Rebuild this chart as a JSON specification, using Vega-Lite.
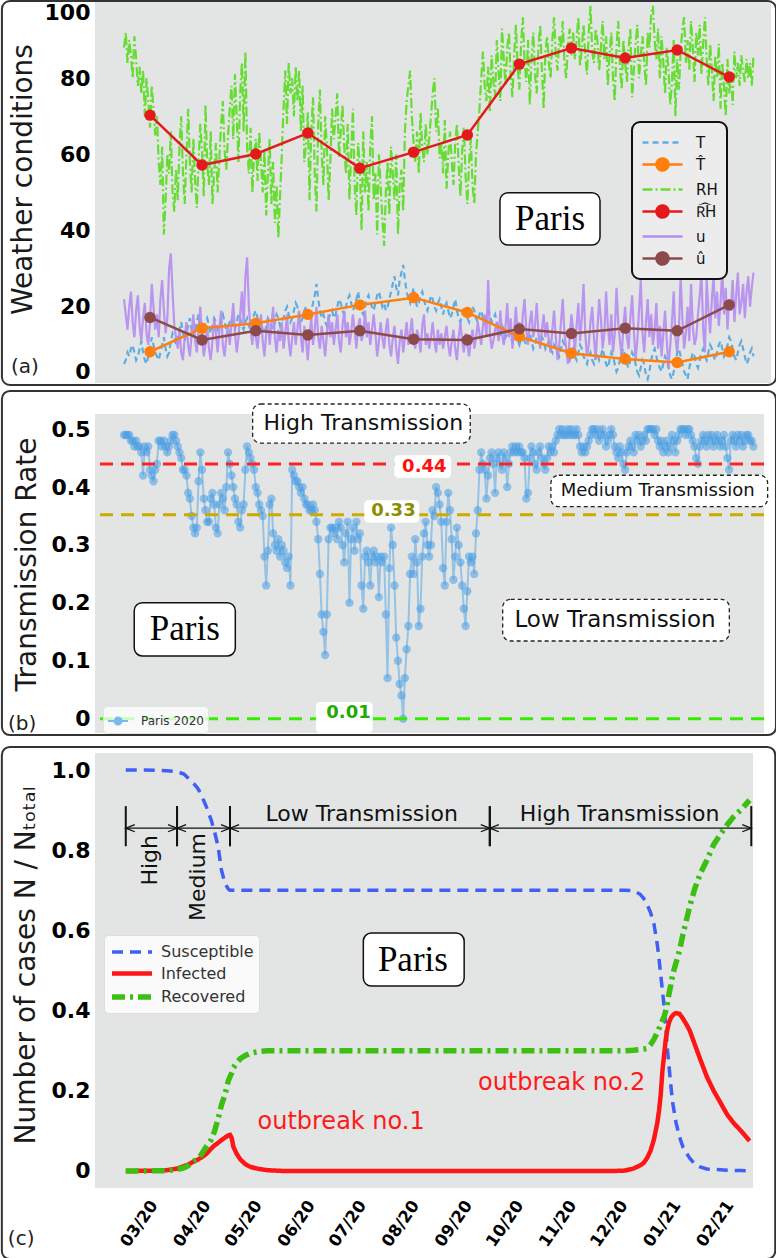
{
"$schema": "https://vega.github.io/schema/vega-lite/v6.json",
"padding": 0,
"background": "white",
"config": {
  "font": "DejaVu Sans",
  "view": {"fill": "#E3E5E5", "stroke": null},
  "axis": {"domain": false, "ticks": false, "gridColor": "#FFFFFF", "gridWidth": 2, "gridOpacity": 1, "labelFontSize": 22, "labelFontWeight": "bold", "labelColor": "#000000", "labelPadding": 5, "titleFontWeight": "normal", "titleFontSize": 28, "titleColor": "#1a1a1a"}
},
"datasets": {
"daily": [
{"d":0,"T":5,"RH":88,"u":22,"r":0.49},{"d":1,"T":6,"RH":92,"u":18,"r":0.49},{"d":2,"T":8,"RH":84,"u":14,"r":0.49},{"d":3,"T":7,"RH":90,"u":20,"r":0.49},{"d":4,"T":9,"RH":86,"u":24,"r":0.48},{"d":5,"T":10,"RH":80,"u":16,"r":0.48},{"d":6,"T":8,"RH":91,"u":12,"r":0.47},{"d":7,"T":6,"RH":85,"u":19,"r":0.48},{"d":8,"T":7,"RH":78,"u":23,"r":0.47},{"d":9,"T":9,"RH":83,"u":15,"r":0.47},
{"d":10,"T":11,"RH":76,"u":11,"r":0.46},{"d":11,"T":8,"RH":82,"u":17,"r":0.42},{"d":12,"T":6,"RH":70,"u":21,"r":0.47},{"d":13,"T":5,"RH":80,"u":13,"r":0.46},{"d":14,"T":7,"RH":74,"u":10,"r":0.47},{"d":15,"T":9,"RH":67,"u":16,"r":0.43},{"d":16,"T":12,"RH":78,"u":26,"r":0.42},{"d":17,"T":10,"RH":72,"u":20,"r":0.41},{"d":18,"T":8,"RH":65,"u":14,"r":0.43},{"d":19,"T":7,"RH":70,"u":18,"r":0.44},
{"d":20,"T":6,"RH":58,"u":12,"r":0.48},{"d":21,"T":8,"RH":52,"u":22,"r":0.48},{"d":22,"T":10,"RH":62,"u":27,"r":0.47},{"d":23,"T":12,"RH":39,"u":19,"r":0.48},{"d":24,"T":9,"RH":48,"u":13,"r":0.47},{"d":25,"T":7,"RH":60,"u":17,"r":0.46},{"d":26,"T":8,"RH":55,"u":30,"r":0.47},{"d":27,"T":11,"RH":66,"u":34,"r":0.48},{"d":28,"T":13,"RH":50,"u":24,"r":0.49},{"d":29,"T":12,"RH":45,"u":15,"r":0.49},
{"d":30,"T":10,"RH":56,"u":12,"r":0.48},{"d":31,"T":12,"RH":48,"u":9,"r":0.47},{"d":32,"T":14,"RH":62,"u":14,"r":0.46},{"d":33,"T":16,"RH":70,"u":8,"r":0.45},{"d":34,"T":13,"RH":55,"u":6,"r":0.43},{"d":35,"T":11,"RH":47,"u":12,"r":0.43},{"d":36,"T":13,"RH":60,"u":16,"r":0.42},{"d":37,"T":15,"RH":72,"u":10,"r":0.39},{"d":38,"T":17,"RH":58,"u":7,"r":0.38},{"d":39,"T":14,"RH":50,"u":13,"r":0.35},
{"d":40,"T":12,"RH":64,"u":18,"r":0.33},{"d":41,"T":14,"RH":53,"u":11,"r":0.32},{"d":42,"T":16,"RH":46,"u":8,"r":0.33},{"d":43,"T":18,"RH":58,"u":14,"r":0.41},{"d":44,"T":15,"RH":68,"u":20,"r":0.46},{"d":45,"T":13,"RH":61,"u":12,"r":0.43},{"d":46,"T":14,"RH":49,"u":7,"r":0.38},{"d":47,"T":16,"RH":73,"u":10,"r":0.36},{"d":48,"T":17,"RH":57,"u":15,"r":0.34},{"d":49,"T":15,"RH":52,"u":9,"r":0.34},
{"d":50,"T":13,"RH":66,"u":6,"r":0.38},{"d":51,"T":15,"RH":47,"u":11,"r":0.39},{"d":52,"T":17,"RH":55,"u":17,"r":0.37},{"d":53,"T":16,"RH":63,"u":13,"r":0.33},{"d":54,"T":14,"RH":50,"u":8,"r":0.32},{"d":55,"T":15,"RH":59,"u":14,"r":0.37},{"d":56,"T":17,"RH":68,"u":19,"r":0.39},{"d":57,"T":18,"RH":74,"u":10,"r":0.38},{"d":58,"T":16,"RH":61,"u":7,"r":0.36},{"d":59,"T":14,"RH":56,"u":12,"r":0.40},
{"d":60,"T":15,"RH":65,"u":15,"r":0.46},{"d":61,"T":16,"RH":72,"u":10,"r":0.44},{"d":62,"T":17,"RH":78,"u":16,"r":0.42},{"d":63,"T":15,"RH":64,"u":21,"r":0.40},{"d":64,"T":14,"RH":81,"u":13,"r":0.38},{"d":65,"T":16,"RH":70,"u":8,"r":0.37},{"d":66,"T":18,"RH":58,"u":12,"r":0.34},{"d":67,"T":17,"RH":76,"u":18,"r":0.33},{"d":68,"T":15,"RH":84,"u":24,"r":0.36},{"d":69,"T":14,"RH":66,"u":15,"r":0.37},
{"d":70,"T":16,"RH":87,"u":28,"r":0.43},{"d":71,"T":17,"RH":62,"u":33,"r":0.47},{"d":72,"T":15,"RH":55,"u":20,"r":0.46},{"d":73,"T":14,"RH":67,"u":14,"r":0.45},{"d":74,"T":16,"RH":50,"u":10,"r":0.44},{"d":75,"T":18,"RH":60,"u":16,"r":0.43},{"d":76,"T":19,"RH":64,"u":12,"r":0.40},{"d":77,"T":17,"RH":53,"u":9,"r":0.39},{"d":78,"T":15,"RH":66,"u":14,"r":0.37},{"d":79,"T":16,"RH":58,"u":18,"r":0.36},
{"d":80,"T":14,"RH":50,"u":11,"r":0.35},{"d":81,"T":13,"RH":61,"u":7,"r":0.28},{"d":82,"T":15,"RH":44,"u":13,"r":0.23},{"d":83,"T":17,"RH":55,"u":17,"r":0.29},{"d":84,"T":16,"RH":64,"u":10,"r":0.37},{"d":85,"T":15,"RH":47,"u":15,"r":0.38},{"d":86,"T":14,"RH":58,"u":20,"r":0.32},{"d":87,"T":16,"RH":42,"u":12,"r":0.30},{"d":88,"T":18,"RH":52,"u":8,"r":0.29},{"d":89,"T":17,"RH":38,"u":14,"r":0.31},
{"d":90,"T":15,"RH":49,"u":11,"r":0.28},{"d":91,"T":16,"RH":60,"u":16,"r":0.30},{"d":92,"T":17,"RH":72,"u":9,"r":0.29},{"d":93,"T":19,"RH":82,"u":13,"r":0.27},{"d":94,"T":20,"RH":68,"u":18,"r":0.26},{"d":95,"T":18,"RH":84,"u":11,"r":0.28},{"d":96,"T":16,"RH":76,"u":7,"r":0.23},{"d":97,"T":17,"RH":80,"u":12,"r":0.43},{"d":98,"T":19,"RH":70,"u":16,"r":0.42},{"d":99,"T":21,"RH":83,"u":10,"r":0.41},
{"d":100,"T":20,"RH":74,"u":14,"r":0.41},{"d":101,"T":18,"RH":82,"u":19,"r":0.40},{"d":102,"T":16,"RH":66,"u":12,"r":0.39},{"d":103,"T":17,"RH":78,"u":8,"r":0.40},{"d":104,"T":19,"RH":58,"u":15,"r":0.38},{"d":105,"T":20,"RH":63,"u":11,"r":0.37},{"d":106,"T":18,"RH":71,"u":6,"r":0.37},{"d":107,"T":17,"RH":48,"u":13,"r":0.36},{"d":108,"T":19,"RH":66,"u":17,"r":0.36},{"d":109,"T":21,"RH":75,"u":10,"r":0.37},
{"d":110,"T":23,"RH":55,"u":14,"r":0.36},{"d":111,"T":26,"RH":45,"u":20,"r":0.34},{"d":112,"T":22,"RH":68,"u":12,"r":0.31},{"d":113,"T":19,"RH":77,"u":9,"r":0.25},{"d":114,"T":17,"RH":60,"u":15,"r":0.18},{"d":115,"T":18,"RH":52,"u":11,"r":0.15},{"d":116,"T":16,"RH":70,"u":7,"r":0.11},{"d":117,"T":15,"RH":62,"u":13,"r":0.18},{"d":118,"T":17,"RH":48,"u":18,"r":0.31},{"d":119,"T":18,"RH":58,"u":12,"r":0.33},
{"d":120,"T":19,"RH":72,"u":16,"r":0.33},{"d":121,"T":17,"RH":64,"u":10,"r":0.32},{"d":122,"T":18,"RH":70,"u":14,"r":0.33},{"d":123,"T":20,"RH":76,"u":18,"r":0.31},{"d":124,"T":22,"RH":59,"u":11,"r":0.34},{"d":125,"T":21,"RH":66,"u":8,"r":0.33},{"d":126,"T":19,"RH":73,"u":15,"r":0.30},{"d":127,"T":18,"RH":62,"u":19,"r":0.27},{"d":128,"T":20,"RH":55,"u":12,"r":0.32},{"d":129,"T":22,"RH":68,"u":16,"r":0.34},
{"d":130,"T":23,"RH":48,"u":10,"r":0.20},{"d":131,"T":21,"RH":60,"u":13,"r":0.31},{"d":132,"T":19,"RH":72,"u":18,"r":0.33},{"d":133,"T":20,"RH":52,"u":14,"r":0.29},{"d":134,"T":22,"RH":44,"u":9,"r":0.34},{"d":135,"T":24,"RH":63,"u":15,"r":0.31},{"d":136,"T":21,"RH":57,"u":17,"r":0.32},{"d":137,"T":19,"RH":40,"u":11,"r":0.23},{"d":138,"T":18,"RH":66,"u":13,"r":0.19},{"d":139,"T":20,"RH":50,"u":19,"r":0.28},
{"d":140,"T":22,"RH":58,"u":12,"r":0.29},{"d":141,"T":23,"RH":45,"u":16,"r":0.27},{"d":142,"T":21,"RH":62,"u":10,"r":0.23},{"d":143,"T":20,"RH":70,"u":14,"r":0.28},{"d":144,"T":19,"RH":48,"u":18,"r":0.29},{"d":145,"T":21,"RH":55,"u":13,"r":0.27},{"d":146,"T":23,"RH":39,"u":7,"r":0.28},{"d":147,"T":24,"RH":60,"u":11,"r":0.21},{"d":148,"T":22,"RH":52,"u":16,"r":0.28},{"d":149,"T":20,"RH":43,"u":12,"r":0.27},
{"d":150,"T":21,"RH":36,"u":9,"r":0.28},{"d":151,"T":19,"RH":50,"u":14,"r":0.18},{"d":152,"T":20,"RH":58,"u":17,"r":0.07},{"d":153,"T":22,"RH":44,"u":10,"r":0.26},{"d":154,"T":24,"RH":62,"u":7,"r":0.33},{"d":155,"T":26,"RH":55,"u":12,"r":0.30},{"d":156,"T":28,"RH":48,"u":15,"r":0.23},{"d":157,"T":25,"RH":60,"u":9,"r":0.14},{"d":158,"T":23,"RH":39,"u":5,"r":0.10},{"d":159,"T":27,"RH":52,"u":11,"r":0.06},
{"d":160,"T":29,"RH":56,"u":14,"r":0.04},{"d":161,"T":31,"RH":45,"u":8,"r":0.00},{"d":162,"T":27,"RH":66,"u":12,"r":0.07},{"d":163,"T":24,"RH":74,"u":16,"r":0.12},{"d":164,"T":22,"RH":78,"u":10,"r":0.16},{"d":165,"T":21,"RH":82,"u":13,"r":0.25},{"d":166,"T":23,"RH":70,"u":17,"r":0.28},{"d":167,"T":25,"RH":63,"u":11,"r":0.25},{"d":168,"T":22,"RH":58,"u":9,"r":0.31},{"d":169,"T":20,"RH":66,"u":14,"r":0.27},
{"d":170,"T":21,"RH":55,"u":12,"r":0.16},{"d":171,"T":23,"RH":71,"u":8,"r":0.19},{"d":172,"T":24,"RH":62,"u":15,"r":0.28},{"d":173,"T":22,"RH":58,"u":18,"r":0.32},{"d":174,"T":20,"RH":68,"u":10,"r":0.34},{"d":175,"T":19,"RH":60,"u":13,"r":0.30},{"d":176,"T":21,"RH":64,"u":9,"r":0.28},{"d":177,"T":23,"RH":70,"u":12,"r":0.30},{"d":178,"T":22,"RH":76,"u":16,"r":0.36},{"d":179,"T":20,"RH":80,"u":11,"r":0.35},
{"d":180,"T":19,"RH":66,"u":8,"r":0.40},{"d":181,"T":21,"RH":72,"u":14,"r":0.39},{"d":182,"T":22,"RH":59,"u":10,"r":0.37},{"d":183,"T":20,"RH":63,"u":13,"r":0.34},{"d":184,"T":18,"RH":55,"u":9,"r":0.26},{"d":185,"T":20,"RH":69,"u":12,"r":0.23},{"d":186,"T":21,"RH":51,"u":15,"r":0.34},{"d":187,"T":19,"RH":60,"u":10,"r":0.39},{"d":188,"T":17,"RH":66,"u":7,"r":0.36},{"d":189,"T":18,"RH":58,"u":11,"r":0.31},
{"d":190,"T":20,"RH":52,"u":14,"r":0.24},{"d":191,"T":22,"RH":63,"u":9,"r":0.28},{"d":192,"T":19,"RH":68,"u":6,"r":0.33},{"d":193,"T":17,"RH":57,"u":12,"r":0.30},{"d":194,"T":16,"RH":49,"u":16,"r":0.27},{"d":195,"T":18,"RH":61,"u":11,"r":0.23},{"d":196,"T":20,"RH":67,"u":8,"r":0.19},{"d":197,"T":19,"RH":54,"u":13,"r":0.16},{"d":198,"T":17,"RH":47,"u":10,"r":0.22},{"d":199,"T":16,"RH":58,"u":7,"r":0.28},
{"d":200,"T":18,"RH":64,"u":11,"r":0.27},{"d":201,"T":20,"RH":52,"u":14,"r":0.28},{"d":202,"T":19,"RH":47,"u":9,"r":0.25},{"d":203,"T":17,"RH":60,"u":12,"r":0.32},{"d":204,"T":16,"RH":66,"u":16,"r":0.36},{"d":205,"T":18,"RH":72,"u":13,"r":0.43},{"d":206,"T":19,"RH":80,"u":10,"r":0.46},{"d":207,"T":17,"RH":87,"u":15,"r":0.44},{"d":208,"T":16,"RH":78,"u":18,"r":0.43},{"d":209,"T":18,"RH":74,"u":12,"r":0.38},
{"d":210,"T":19,"RH":83,"u":27,"r":0.42},{"d":211,"T":18,"RH":71,"u":13,"r":0.45},{"d":212,"T":16,"RH":86,"u":9,"r":0.46},{"d":213,"T":17,"RH":79,"u":11,"r":0.44},{"d":214,"T":18,"RH":75,"u":14,"r":0.39},{"d":215,"T":16,"RH":90,"u":16,"r":0.45},{"d":216,"T":14,"RH":82,"u":11,"r":0.46},{"d":217,"T":13,"RH":74,"u":19,"r":0.44},{"d":218,"T":15,"RH":93,"u":13,"r":0.43},{"d":219,"T":14,"RH":85,"u":10,"r":0.46},
{"d":220,"T":12,"RH":78,"u":15,"r":0.45},{"d":221,"T":13,"RH":88,"u":21,"r":0.40},{"d":222,"T":14,"RH":92,"u":12,"r":0.44},{"d":223,"T":12,"RH":80,"u":17,"r":0.46},{"d":224,"T":11,"RH":75,"u":9,"r":0.47},{"d":225,"T":12,"RH":86,"u":14,"r":0.46},{"d":226,"T":13,"RH":94,"u":20,"r":0.47},{"d":227,"T":11,"RH":83,"u":13,"r":0.46},{"d":228,"T":10,"RH":77,"u":16,"r":0.47},{"d":229,"T":12,"RH":89,"u":11,"r":0.46},
{"d":230,"T":13,"RH":96,"u":18,"r":0.46},{"d":231,"T":11,"RH":84,"u":22,"r":0.45},{"d":232,"T":10,"RH":79,"u":14,"r":0.38},{"d":233,"T":12,"RH":90,"u":10,"r":0.39},{"d":234,"T":13,"RH":73,"u":16,"r":0.45},{"d":235,"T":11,"RH":85,"u":19,"r":0.47},{"d":236,"T":9,"RH":92,"u":12,"r":0.46},{"d":237,"T":10,"RH":81,"u":15,"r":0.44},{"d":238,"T":12,"RH":76,"u":21,"r":0.43},{"d":239,"T":11,"RH":88,"u":13,"r":0.46},
{"d":240,"T":10,"RH":94,"u":9,"r":0.47},{"d":241,"T":12,"RH":82,"u":14,"r":0.45},{"d":242,"T":11,"RH":72,"u":18,"r":0.44},{"d":243,"T":9,"RH":87,"u":12,"r":0.43},{"d":244,"T":10,"RH":91,"u":16,"r":0.45},{"d":245,"T":11,"RH":84,"u":11,"r":0.47},{"d":246,"T":9,"RH":80,"u":8,"r":0.46},{"d":247,"T":8,"RH":90,"u":14,"r":0.47},{"d":248,"T":10,"RH":96,"u":19,"r":0.46},{"d":249,"T":9,"RH":86,"u":12,"r":0.48},
{"d":250,"T":8,"RH":82,"u":6,"r":0.49},{"d":251,"T":7,"RH":91,"u":10,"r":0.50},{"d":252,"T":9,"RH":88,"u":16,"r":0.49},{"d":253,"T":11,"RH":95,"u":22,"r":0.50},{"d":254,"T":10,"RH":84,"u":13,"r":0.49},{"d":255,"T":8,"RH":80,"u":9,"r":0.49},{"d":256,"T":7,"RH":89,"u":5,"r":0.50},{"d":257,"T":6,"RH":93,"u":12,"r":0.49},{"d":258,"T":8,"RH":86,"u":18,"r":0.50},{"d":259,"T":9,"RH":92,"u":14,"r":0.49},
{"d":260,"T":7,"RH":85,"u":8,"r":0.49},{"d":261,"T":6,"RH":90,"u":15,"r":0.50},{"d":262,"T":8,"RH":96,"u":21,"r":0.49},{"d":263,"T":10,"RH":83,"u":11,"r":0.47},{"d":264,"T":9,"RH":88,"u":17,"r":0.46},{"d":265,"T":7,"RH":94,"u":26,"r":0.47},{"d":266,"T":6,"RH":86,"u":13,"r":0.46},{"d":267,"T":5,"RH":81,"u":7,"r":0.47},{"d":268,"T":7,"RH":92,"u":10,"r":0.48},{"d":269,"T":8,"RH":99,"u":16,"r":0.49},
{"d":270,"T":6,"RH":87,"u":20,"r":0.50},{"d":271,"T":5,"RH":84,"u":12,"r":0.50},{"d":272,"T":7,"RH":93,"u":6,"r":0.49},{"d":273,"T":8,"RH":90,"u":14,"r":0.50},{"d":274,"T":6,"RH":82,"u":22,"r":0.48},{"d":275,"T":7,"RH":88,"u":17,"r":0.49},{"d":276,"T":9,"RH":95,"u":9,"r":0.50},{"d":277,"T":7,"RH":85,"u":13,"r":0.49},{"d":278,"T":5,"RH":91,"u":24,"r":0.47},{"d":279,"T":4,"RH":78,"u":15,"r":0.48},
{"d":280,"T":6,"RH":86,"u":10,"r":0.49},{"d":281,"T":8,"RH":92,"u":18,"r":0.50},{"d":282,"T":7,"RH":80,"u":8,"r":0.49},{"d":283,"T":5,"RH":74,"u":13,"r":0.47},{"d":284,"T":3,"RH":88,"u":25,"r":0.46},{"d":285,"T":4,"RH":95,"u":16,"r":0.45},{"d":286,"T":6,"RH":83,"u":11,"r":0.47},{"d":287,"T":8,"RH":77,"u":7,"r":0.46},{"d":288,"T":9,"RH":90,"u":15,"r":0.44},{"d":289,"T":7,"RH":84,"u":20,"r":0.43},
{"d":290,"T":5,"RH":79,"u":12,"r":0.46},{"d":291,"T":4,"RH":88,"u":9,"r":0.47},{"d":292,"T":6,"RH":93,"u":17,"r":0.48},{"d":293,"T":8,"RH":75,"u":23,"r":0.47},{"d":294,"T":7,"RH":82,"u":14,"r":0.46},{"d":295,"T":5,"RH":89,"u":6,"r":0.49},{"d":296,"T":3,"RH":94,"u":11,"r":0.48},{"d":297,"T":2,"RH":80,"u":19,"r":0.49},{"d":298,"T":4,"RH":86,"u":27,"r":0.47},{"d":299,"T":6,"RH":91,"u":13,"r":0.48},
{"d":300,"T":5,"RH":84,"u":8,"r":0.49},{"d":301,"T":2,"RH":78,"u":16,"r":0.48},{"d":302,"T":1,"RH":92,"u":22,"r":0.50},{"d":303,"T":3,"RH":88,"u":12,"r":0.50},{"d":304,"T":6,"RH":97,"u":18,"r":0.50},{"d":305,"T":8,"RH":99,"u":10,"r":0.50},{"d":306,"T":9,"RH":90,"u":14,"r":0.49},{"d":307,"T":7,"RH":85,"u":21,"r":0.50},{"d":308,"T":5,"RH":93,"u":9,"r":0.48},{"d":309,"T":4,"RH":80,"u":15,"r":0.47},
{"d":310,"T":3,"RH":91,"u":7,"r":0.48},{"d":311,"T":5,"RH":84,"u":13,"r":0.46},{"d":312,"T":7,"RH":76,"u":19,"r":0.47},{"d":313,"T":6,"RH":88,"u":11,"r":0.48},{"d":314,"T":4,"RH":82,"u":4,"r":0.46},{"d":315,"T":2,"RH":73,"u":10,"r":0.47},{"d":316,"T":1,"RH":79,"u":16,"r":0.49},{"d":317,"T":3,"RH":90,"u":24,"r":0.48},{"d":318,"T":5,"RH":70,"u":12,"r":0.46},{"d":319,"T":8,"RH":85,"u":8,"r":0.48},
{"d":320,"T":9,"RH":77,"u":14,"r":0.49},{"d":321,"T":7,"RH":87,"u":28,"r":0.50},{"d":322,"T":5,"RH":93,"u":17,"r":0.50},{"d":323,"T":3,"RH":96,"u":9,"r":0.50},{"d":324,"T":2,"RH":84,"u":13,"r":0.49},{"d":325,"T":1,"RH":90,"u":20,"r":0.50},{"d":326,"T":4,"RH":82,"u":11,"r":0.50},{"d":327,"T":6,"RH":95,"u":26,"r":0.49},{"d":328,"T":8,"RH":88,"u":15,"r":0.48},{"d":329,"T":7,"RH":79,"u":10,"r":0.47},
{"d":330,"T":5,"RH":92,"u":12,"r":0.45},{"d":331,"T":4,"RH":86,"u":18,"r":0.44},{"d":332,"T":6,"RH":94,"u":23,"r":0.47},{"d":333,"T":8,"RH":81,"u":29,"r":0.48},{"d":334,"T":9,"RH":89,"u":14,"r":0.49},{"d":335,"T":7,"RH":96,"u":8,"r":0.48},{"d":336,"T":6,"RH":85,"u":27,"r":0.47},{"d":337,"T":8,"RH":78,"u":19,"r":0.49},{"d":338,"T":10,"RH":89,"u":13,"r":0.48},{"d":339,"T":9,"RH":82,"u":22,"r":0.49},
{"d":340,"T":7,"RH":74,"u":28,"r":0.47},{"d":341,"T":6,"RH":86,"u":17,"r":0.48},{"d":342,"T":8,"RH":80,"u":24,"r":0.49},{"d":343,"T":10,"RH":89,"u":15,"r":0.48},{"d":344,"T":11,"RH":72,"u":21,"r":0.47},{"d":345,"T":9,"RH":84,"u":30,"r":0.48},{"d":346,"T":7,"RH":78,"u":18,"r":0.49},{"d":347,"T":8,"RH":70,"u":25,"r":0.47},{"d":348,"T":10,"RH":85,"u":14,"r":0.45},{"d":349,"T":12,"RH":76,"u":22,"r":0.43},
{"d":350,"T":11,"RH":81,"u":19,"r":0.48},{"d":351,"T":9,"RH":73,"u":27,"r":0.49},{"d":352,"T":7,"RH":87,"u":16,"r":0.48},{"d":353,"T":6,"RH":80,"u":23,"r":0.47},{"d":354,"T":8,"RH":84,"u":29,"r":0.49},{"d":355,"T":10,"RH":78,"u":18,"r":0.48},{"d":356,"T":11,"RH":86,"u":21,"r":0.49},{"d":357,"T":9,"RH":82,"u":26,"r":0.47},{"d":358,"T":7,"RH":79,"u":17,"r":0.48},{"d":359,"T":5,"RH":85,"u":24,"r":0.49},
{"d":360,"T":6,"RH":80,"u":28,"r":0.49},{"d":361,"T":8,"RH":84,"u":20,"r":0.48},{"d":362,"T":9,"RH":78,"u":25,"r":0.48},{"d":363,"T":7,"RH":86,"u":29,"r":0.47}
],
"monthly": [
{"d":15,"Th":8.2,"RHh":70.3,"uh":17.2},{"d":45,"Th":14.4,"RHh":57.2,"uh":11.3},{"d":76,"Th":15.7,"RHh":60.1,"uh":13.7},{"d":106,"Th":18.0,"RHh":65.6,"uh":12.6},{"d":136,"Th":20.5,"RHh":56.4,"uh":13.7},{"d":167,"Th":22.4,"RHh":60.6,"uh":11.5},{"d":198,"Th":18.5,"RHh":65.1,"uh":11.3},{"d":228,"Th":12.2,"RHh":83.7,"uh":14.2},{"d":258,"Th":7.8,"RHh":87.9,"uh":13.0},{"d":289,"Th":6.3,"RHh":85.3,"uh":14.4},{"d":319,"Th":5.4,"RHh":87.4,"uh":13.7},{"d":349,"Th":8.2,"RHh":80.3,"uh":20.5}
],
"sir": [
{"date":"2020/03/01","Susceptible":1,"Infected":0,"Recovered":0},
{"date":"2020/03/11","Susceptible":1,"Infected":0.0005,"Recovered":0.0002},
{"date":"2020/03/21","Susceptible":0.999,"Infected":0.001,"Recovered":0.0005},
{"date":"2020/03/25","Susceptible":0.998,"Infected":0.002,"Recovered":0.001},
{"date":"2020/03/31","Susceptible":0.996,"Infected":0.006,"Recovered":0.004},
{"date":"2020/04/04","Susceptible":0.99,"Infected":0.012,"Recovered":0.008},
{"date":"2020/04/06","Susceptible":0.982,"Infected":0.015,"Recovered":0.012},
{"date":"2020/04/10","Susceptible":0.965,"Infected":0.024,"Recovered":0.025},
{"date":"2020/04/12","Susceptible":0.955,"Infected":0.028,"Recovered":0.03},
{"date":"2020/04/14","Susceptible":0.94,"Infected":0.033,"Recovered":0.04},
{"date":"2020/04/17","Susceptible":0.91,"Infected":0.042,"Recovered":0.06},
{"date":"2020/04/20","Susceptible":0.875,"Infected":0.056,"Recovered":0.078},
{"date":"2020/04/22","Susceptible":0.845,"Infected":0.064,"Recovered":0.1},
{"date":"2020/04/24","Susceptible":0.81,"Infected":0.07,"Recovered":0.13},
{"date":"2020/04/26","Susceptible":0.75,"Infected":0.077,"Recovered":0.165},
{"date":"2020/04/28","Susceptible":0.718,"Infected":0.083,"Recovered":0.19},
{"date":"2020/04/30","Susceptible":0.703,"Infected":0.089,"Recovered":0.225},
{"date":"2020/05/01","Susceptible":0.7,"Infected":0.09,"Recovered":0.235},
{"date":"2020/05/02","Susceptible":0.7,"Infected":0.082,"Recovered":0.245},
{"date":"2020/05/03","Susceptible":0.7,"Infected":0.06,"Recovered":0.258},
{"date":"2020/05/05","Susceptible":0.7,"Infected":0.042,"Recovered":0.27},
{"date":"2020/05/07","Susceptible":0.7,"Infected":0.029,"Recovered":0.28},
{"date":"2020/05/10","Susceptible":0.7,"Infected":0.017,"Recovered":0.288},
{"date":"2020/05/13","Susceptible":0.7,"Infected":0.01,"Recovered":0.294},
{"date":"2020/05/18","Susceptible":0.7,"Infected":0.005,"Recovered":0.298},
{"date":"2020/05/23","Susceptible":0.7,"Infected":0.002,"Recovered":0.3},
{"date":"2020/06/01","Susceptible":0.7,"Infected":0,"Recovered":0.3},
{"date":"2020/06/29","Susceptible":0.7,"Infected":0,"Recovered":0.3},
{"date":"2020/07/29","Susceptible":0.7,"Infected":0,"Recovered":0.3},
{"date":"2020/08/28","Susceptible":0.7,"Infected":0,"Recovered":0.3},
{"date":"2020/09/27","Susceptible":0.7,"Infected":0,"Recovered":0.3},
{"date":"2020/10/27","Susceptible":0.7,"Infected":0,"Recovered":0.3},
{"date":"2020/11/26","Susceptible":0.7,"Infected":0,"Recovered":0.3},
{"date":"2020/12/11","Susceptible":0.7,"Infected":0,"Recovered":0.3},
{"date":"2020/12/18","Susceptible":0.7,"Infected":0.001,"Recovered":0.3},
{"date":"2020/12/23","Susceptible":0.699,"Infected":0.006,"Recovered":0.301},
{"date":"2020/12/27","Susceptible":0.69,"Infected":0.014,"Recovered":0.303},
{"date":"2020/12/29","Susceptible":0.68,"Infected":0.02,"Recovered":0.304},
{"date":"2020/12/31","Susceptible":0.665,"Infected":0.032,"Recovered":0.306},
{"date":"2021/01/02","Susceptible":0.645,"Infected":0.05,"Recovered":0.315},
{"date":"2021/01/04","Susceptible":0.617,"Infected":0.078,"Recovered":0.328},
{"date":"2021/01/06","Susceptible":0.565,"Infected":0.12,"Recovered":0.345},
{"date":"2021/01/07","Susceptible":0.53,"Infected":0.15,"Recovered":0.355},
{"date":"2021/01/08","Susceptible":0.49,"Infected":0.19,"Recovered":0.365},
{"date":"2021/01/09","Susceptible":0.45,"Infected":0.25,"Recovered":0.375},
{"date":"2021/01/10","Susceptible":0.41,"Infected":0.29,"Recovered":0.385},
{"date":"2021/01/11","Susceptible":0.36,"Infected":0.33,"Recovered":0.4},
{"date":"2021/01/12","Susceptible":0.3,"Infected":0.355,"Recovered":0.42},
{"date":"2021/01/13","Susceptible":0.255,"Infected":0.372,"Recovered":0.445},
{"date":"2021/01/14","Susceptible":0.21,"Infected":0.382,"Recovered":0.465},
{"date":"2021/01/15","Susceptible":0.17,"Infected":0.388,"Recovered":0.49},
{"date":"2021/01/16","Susceptible":0.145,"Infected":0.392,"Recovered":0.505},
{"date":"2021/01/17","Susceptible":0.12,"Infected":0.394,"Recovered":0.52},
{"date":"2021/01/19","Susceptible":0.085,"Infected":0.392,"Recovered":0.55},
{"date":"2021/01/21","Susceptible":0.06,"Infected":0.38,"Recovered":0.59},
{"date":"2021/01/23","Susceptible":0.045,"Infected":0.366,"Recovered":0.625},
{"date":"2021/01/25","Susceptible":0.032,"Infected":0.35,"Recovered":0.66},
{"date":"2021/01/28","Susceptible":0.017,"Infected":0.315,"Recovered":0.705},
{"date":"2021/01/31","Susceptible":0.01,"Infected":0.28,"Recovered":0.74},
{"date":"2021/02/04","Susceptible":0.005,"Infected":0.235,"Recovered":0.775},
{"date":"2021/02/08","Susceptible":0.004,"Infected":0.2,"Recovered":0.814},
{"date":"2021/02/12","Susceptible":0.003,"Infected":0.17,"Recovered":0.84},
{"date":"2021/02/16","Susceptible":0.002,"Infected":0.14,"Recovered":0.864},
{"date":"2021/02/20","Susceptible":0.001,"Infected":0.118,"Recovered":0.885},
{"date":"2021/02/24","Susceptible":0.001,"Infected":0.1,"Recovered":0.901},
{"date":"2021/03/01","Susceptible":0,"Infected":0.075,"Recovered":0.925}
],
"iv": [
{"start":"2020/03/01","end":"2020/03/31","phase":"High"},
{"start":"2020/03/31","end":"2020/05/01","phase":"Medium"},
{"start":"2020/05/01","end":"2020/09/30","phase":"Low Transmission"},
{"start":"2020/09/30","end":"2021/03/02","phase":"High Transmission"}
]
},
"spacing": 8,
"resolve": {"scale": {"color": "independent", "strokeDash": "independent", "strokeWidth": "independent"}, "legend": {"color": "independent", "strokeDash": "independent", "strokeWidth": "independent"}},
"vconcat": [
{
"spacing": 3,
"resolve": {"scale": {"color": "independent"}, "legend": {"color": "independent"}},
"vconcat": [
{
"width": 676, "height": 381,
"layer": [
 {"data": {"values": [{}]}, "mark": {"type": "rect", "filled": false, "stroke": "#333333", "strokeWidth": 2, "cornerRadius": 8},
  "encoding": {"x": {"datum": -70.4, "type": "quantitative"}, "x2": {"datum": 376}, "y": {"datum": -0.52, "type": "quantitative"}, "y2": {"datum": 100.26}}},
 {"data": {"name": "daily"}, "mark": {"type": "line", "strokeWidth": 2.2, "strokeDash": [6, 4]},
  "encoding": {
   "x": {"field": "d", "type": "quantitative", "scale": {"domain": [-16.72, 373.1], "nice": false, "zero": false}, "axis": {"values": [0, 50, 100, 150, 200, 250, 300, 350], "labels": false, "title": null}},
   "y": {"field": "T", "type": "quantitative", "scale": {"domain": [0, 100], "nice": false, "zero": false}, "axis": {"values": [0, 20, 40, 60, 80, 100], "labelFlush": true, "title": "Weather conditions", "titleX": -72, "titleY": 177, "titleBaseline": "middle"}},
   "color": {"datum": "T", "type": "nominal",
     "scale": {"domain": ["T", "T\u0302", "RH", "R\u1dcdH", "u", "\u00fb"], "range": ["#5DADE2", "#FF7F0E", "#66DD33", "#E31A1C", "#B58CF0", "#8C4A4A"]},
     "legend": {"title": null, "orient": "none", "legendX": 537, "legendY": 120, "fillColor": "#ECECEC", "strokeColor": "#111111", "cornerRadius": 8, "padding": 9, "rowPadding": 2, "labelFontSize": 15, "labelColor": "#111111", "labelFontWeight": "normal", "symbolSize": 400, "symbolStrokeWidth": 2.5, "symbolOpacity": 1, "labelOffset": 32, "symbolType": "M-1,0L3,0",
       "encode": {"legend": {"update": {"strokeWidth": {"value": 2}}},
         "symbols": {"update": {
         "shape": {"signal": "indexof(['T\u0302','R\u1dcdH','\u00fb'], datum.value) >= 0 ? 'M-1,0L3,0M0.4,0A0.6,0.6,0,1,1,1.6,0A0.6,0.6,0,1,1,0.4,0' : 'M-1,0L3,0'"},
         "strokeDash": {"signal": "datum.value == 'T' ? [6,4] : datum.value == 'RH' ? [10,3,2,3] : [1,0]"},
         "fill": {"signal": "datum.value == 'T\u0302' ? '#FF7F0E' : datum.value == 'R\u1dcdH' ? '#E31A1C' : datum.value == '\u00fb' ? '#8C4A4A' : 'transparent'"},
         "strokeWidth": {"value": 2.5}, "opacity": {"value": 1}}}}}}
  }},
 {"data": {"name": "daily"}, "mark": {"type": "line", "strokeWidth": 2.2, "strokeDash": [10, 3, 2, 3]},
  "encoding": {"x": {"field": "d", "type": "quantitative"}, "y": {"field": "RH", "type": "quantitative"}, "color": {"datum": "RH", "type": "nominal"}}},
 {"data": {"name": "daily"}, "mark": {"type": "line", "strokeWidth": 2.2, "opacity": 0.9},
  "encoding": {"x": {"field": "d", "type": "quantitative"}, "y": {"field": "u", "type": "quantitative"}, "color": {"datum": "u", "type": "nominal"}}},
 {"data": {"name": "monthly"}, "mark": {"type": "line", "strokeWidth": 2.5, "point": {"filled": true, "size": 130, "opacity": 1}},
  "encoding": {"x": {"field": "d", "type": "quantitative"}, "y": {"field": "Th", "type": "quantitative"}, "color": {"datum": "T\u0302", "type": "nominal"}}},
 {"data": {"name": "monthly"}, "mark": {"type": "line", "strokeWidth": 2.5, "point": {"filled": true, "size": 130, "opacity": 1}},
  "encoding": {"x": {"field": "d", "type": "quantitative"}, "y": {"field": "RHh", "type": "quantitative"}, "color": {"datum": "R\u1dcdH", "type": "nominal"}}},
 {"data": {"name": "monthly"}, "mark": {"type": "line", "strokeWidth": 2.5, "point": {"filled": true, "size": 130, "opacity": 1}},
  "encoding": {"x": {"field": "d", "type": "quantitative"}, "y": {"field": "uh", "type": "quantitative"}, "color": {"datum": "\u00fb", "type": "nominal"}}},
 {"data": {"values": [{}]}, "mark": {"type": "rect", "fill": "#FFFFFF", "stroke": "#111111", "strokeWidth": 1.5, "cornerRadius": 8},
  "encoding": {"x": {"datum": 216.8, "type": "quantitative"}, "x2": {"datum": 274.5}, "y": {"datum": 36.2, "type": "quantitative"}, "y2": {"datum": 49.95}}},
 {"data": {"values": [{}]}, "mark": {"type": "text", "font": "Liberation Serif", "fontSize": 35, "color": "#000000", "text": "Paris"},
  "encoding": {"x": {"datum": 245.7, "type": "quantitative"}, "y": {"datum": 43.1, "type": "quantitative"}}},
 {"data": {"values": [{}]}, "mark": {"type": "text", "fontSize": 20, "align": "left", "baseline": "middle", "color": "#222222", "text": "(a)"},
  "encoding": {"x": {"datum": -65.2, "type": "quantitative"}, "y": {"datum": 4.2, "type": "quantitative"}}}
]
},
{
"width": 669, "height": 319,
"layer": [
 {"data": {"values": [{}]}, "mark": {"type": "rect", "filled": false, "stroke": "#333333", "strokeWidth": 2, "cornerRadius": 8},
  "encoding": {"x": {"datum": -70.4, "type": "quantitative"}, "x2": {"datum": 376}, "y": {"datum": -0.0282, "type": "quantitative"}, "y2": {"datum": 0.566}}},
 {"data": {"name": "daily"}, "mark": {"type": "line", "strokeWidth": 2, "opacity": 0.5},
  "encoding": {
   "x": {"field": "d", "type": "quantitative", "scale": {"domain": [-16.72, 369.1], "nice": false, "zero": false}, "axis": {"values": [0, 50, 100, 150, 200, 250, 300, 350], "labels": false, "title": null}},
   "y": {"field": "r", "type": "quantitative", "scale": {"domain": [-0.0247, 0.5262], "nice": false, "zero": false}, "axis": {"values": [0, 0.1, 0.2, 0.3, 0.4, 0.5], "labelExpr": "datum.value == 0 ? '0' : format(datum.value, '.1f')", "title": "Transmission Rate", "titleX": -68, "titleY": 150, "titleBaseline": "middle"}},
   "color": {"datum": "Paris 2020", "type": "nominal", "scale": {"domain": ["Paris 2020"], "range": ["#4A9FE3"]},
     "legend": {"title": null, "orient": "none", "legendX": 8, "legendY": 292, "fillColor": "rgba(255,255,255,0.75)", "strokeColor": "#E2E2E2", "cornerRadius": 4, "padding": 4, "labelFontSize": 12, "labelColor": "#333333", "labelFontWeight": "normal", "labelOffset": 12,
       "symbolType": "M-1,0L1,0M-0.35,0A0.35,0.35,0,1,1,0.35,0A0.35,0.35,0,1,1,-0.35,0", "symbolSize": 400, "symbolStrokeWidth": 2, "symbolFillColor": "#4A9FE3", "symbolStrokeColor": "#4A9FE3", "symbolOpacity": 0.7,
       "encode": {"symbols": {"update": {"fill": {"value": "#4A9FE3"}, "stroke": {"value": "#4A9FE3"}, "opacity": {"value": 0.7}}}}}}
  }},
 {"data": {"name": "daily"}, "mark": {"type": "point", "filled": true, "size": 70, "opacity": 0.55},
  "encoding": {"x": {"field": "d", "type": "quantitative"}, "y": {"field": "r", "type": "quantitative"}, "color": {"datum": "Paris 2020", "type": "nominal"}}},
 {"data": {"values": [{}]}, "mark": {"type": "rule", "color": "#FF2222", "strokeWidth": 3, "strokeDash": [13, 8]}, "encoding": {"y": {"datum": 0.44, "type": "quantitative"}}},
 {"data": {"values": [{}]}, "mark": {"type": "rule", "color": "#CCAA00", "strokeWidth": 3, "strokeDash": [13, 8]}, "encoding": {"y": {"datum": 0.352, "type": "quantitative"}}},
 {"data": {"values": [{}]}, "mark": {"type": "rule", "color": "#33EE00", "strokeWidth": 3, "strokeDash": [13, 8]}, "encoding": {"y": {"datum": 0, "type": "quantitative"}}},
 {"data": {"values": [{}]}, "mark": {"type": "rect", "fill": "#FFFFFF", "cornerRadius": 4},
  "encoding": {"x": {"datum": 155.9, "type": "quantitative"}, "x2": {"datum": 188.6}, "y": {"datum": 0.4162, "type": "quantitative"}, "y2": {"datum": 0.4549}}},
 {"data": {"values": [{}]}, "mark": {"type": "text", "fontSize": 18, "fontWeight": "bold", "color": "#FF1111", "text": "0.44"},
  "encoding": {"x": {"datum": 173.2, "type": "quantitative"}, "y": {"datum": 0.434, "type": "quantitative"}}},
 {"data": {"values": [{}]}, "mark": {"type": "rect", "fill": "#FFFFFF", "cornerRadius": 4},
  "encoding": {"x": {"datum": 138.6, "type": "quantitative"}, "x2": {"datum": 170.3}, "y": {"datum": 0.3385, "type": "quantitative"}, "y2": {"datum": 0.3772}}},
 {"data": {"values": [{}]}, "mark": {"type": "text", "fontSize": 18, "fontWeight": "bold", "color": "#8C8C00", "text": "0.33"},
  "encoding": {"x": {"datum": 155.4, "type": "quantitative"}, "y": {"datum": 0.3587, "type": "quantitative"}}},
 {"data": {"values": [{}]}, "mark": {"type": "rect", "fill": "#FFFFFF", "cornerRadius": 4},
  "encoding": {"x": {"datum": 110.7, "type": "quantitative"}, "x2": {"datum": 143.4}, "y": {"datum": -0.0242, "type": "quantitative"}, "y2": {"datum": 0.0288}}},
 {"data": {"values": [{}]}, "mark": {"type": "text", "fontSize": 18, "fontWeight": "bold", "color": "#22AA00", "text": "0.01"},
  "encoding": {"x": {"datum": 129.5, "type": "quantitative"}, "y": {"datum": 0.009, "type": "quantitative"}}},
 {"data": {"values": [{}]}, "mark": {"type": "rect", "fill": "#FFFFFF", "stroke": "#222222", "strokeWidth": 1.3, "strokeDash": [4, 3], "cornerRadius": 8},
  "encoding": {"x": {"datum": 74.2, "type": "quantitative"}, "x2": {"datum": 199.7}, "y": {"datum": 0.476, "type": "quantitative"}, "y2": {"datum": 0.5435}}},
 {"data": {"values": [{}]}, "mark": {"type": "text", "fontSize": 22, "color": "#111111", "text": "High Transmission"},
  "encoding": {"x": {"datum": 138, "type": "quantitative"}, "y": {"datum": 0.51, "type": "quantitative"}}},
 {"data": {"values": [{}]}, "mark": {"type": "rect", "fill": "#FFFFFF", "stroke": "#222222", "strokeWidth": 1.3, "strokeDash": [4, 3], "cornerRadius": 8},
  "encoding": {"x": {"datum": 246.2, "type": "quantitative"}, "x2": {"datum": 371.2}, "y": {"datum": 0.3662, "type": "quantitative"}, "y2": {"datum": 0.4204}}},
 {"data": {"values": [{}]}, "mark": {"type": "text", "fontSize": 18, "color": "#111111", "text": "Medium Transmission"},
  "encoding": {"x": {"datum": 307.8, "type": "quantitative"}, "y": {"datum": 0.3933, "type": "quantitative"}}},
 {"data": {"values": [{}]}, "mark": {"type": "rect", "fill": "#FFFFFF", "stroke": "#222222", "strokeWidth": 1.3, "strokeDash": [4, 3], "cornerRadius": 8},
  "encoding": {"x": {"datum": 218.4, "type": "quantitative"}, "x2": {"datum": 349.1}, "y": {"datum": 0.1342, "type": "quantitative"}, "y2": {"datum": 0.2062}}},
 {"data": {"values": [{}]}, "mark": {"type": "text", "fontSize": 23, "color": "#111111", "text": "Low Transmission"},
  "encoding": {"x": {"datum": 283.2, "type": "quantitative"}, "y": {"datum": 0.1705, "type": "quantitative"}}},
 {"data": {"values": [{}]}, "mark": {"type": "rect", "fill": "#FFFFFF", "stroke": "#111111", "strokeWidth": 1.5, "cornerRadius": 8},
  "encoding": {"x": {"datum": 5.9, "type": "quantitative"}, "x2": {"datum": 64.2}, "y": {"datum": 0.1083, "type": "quantitative"}, "y2": {"datum": 0.2003}}},
 {"data": {"values": [{}]}, "mark": {"type": "text", "font": "Liberation Serif", "fontSize": 35, "color": "#000000", "text": "Paris"},
  "encoding": {"x": {"datum": 35.1, "type": "quantitative"}, "y": {"datum": 0.1543, "type": "quantitative"}}},
 {"data": {"values": [{}]}, "mark": {"type": "text", "fontSize": 20, "align": "left", "baseline": "middle", "color": "#222222", "text": "(b)"},
  "encoding": {"x": {"datum": -66.9, "type": "quantitative"}, "y": {"datum": -0.0083, "type": "quantitative"}}}
]
}
]
},
{
"width": 658, "height": 435,
"layer": [
 {"data": {"values": [{}]}, "mark": {"type": "rect", "filled": false, "stroke": "#333333", "strokeWidth": 2, "cornerRadius": 8},
  "encoding": {"x": {"datum": {"year": 2019, "month": 12, "date": 19, "hours": 12}, "type": "temporal"}, "x2": {"datum": {"year": 2021, "month": 3, "date": 16}}, "y": {"datum": -0.2195, "type": "quantitative"}, "y2": {"datum": 1.0574}}},
 {"data": {"name": "sir"}, "transform": [{"fold": ["Susceptible", "Infected", "Recovered"], "as": ["series", "value"]}],
  "mark": {"type": "line"},
  "encoding": {
   "x": {"field": "date", "type": "temporal",
     "scale": {"domain": [{"year": 2020, "month": 2, "date": 12}, {"year": 2021, "month": 3, "date": 3}], "nice": false},
     "axis": {"title": null, "format": "%m/%y", "labelAngle": -55, "labelAlign": "right", "labelBaseline": "middle", "labelFontSize": 16.5, "labelOffset": 28, "labelPadding": 14, "labelFlush": false, "labelOverlap": false,
       "values": [{"year": 2020, "month": 3, "date": 1}, {"year": 2020, "month": 4, "date": 1}, {"year": 2020, "month": 5, "date": 1}, {"year": 2020, "month": 6, "date": 1}, {"year": 2020, "month": 7, "date": 1}, {"year": 2020, "month": 8, "date": 1}, {"year": 2020, "month": 9, "date": 1}, {"year": 2020, "month": 10, "date": 1}, {"year": 2020, "month": 11, "date": 1}, {"year": 2020, "month": 12, "date": 1}, {"year": 2021, "month": 1, "date": 1}, {"year": 2021, "month": 2, "date": 1}],
       "gridOpacity": {"condition": {"test": "month(datum.value) % 2 == 0", "value": 1}, "value": 0}}},
   "y": {"field": "value", "type": "quantitative", "scale": {"domain": [-0.0424, 1.0424], "nice": false, "zero": false},
     "axis": {"values": [0, 0.2, 0.4, 0.6, 0.8, 1.0], "labelExpr": "datum.value == 0 ? '0' : format(datum.value, '.1f')", "title": "Number of cases  N / N\u209c\u2092\u209c\u2090\u2097", "titleX": -69, "titleY": 212, "titleBaseline": "middle"}},
   "color": {"field": "series", "type": "nominal", "scale": {"domain": ["Susceptible", "Infected", "Recovered"], "range": ["#3F5FF5", "#FF1515", "#3DBE12"]},
     "legend": {"title": null, "orient": "none", "legendX": 9, "legendY": 182, "fillColor": "rgba(255,255,255,0.8)", "strokeColor": "#DDDDDD", "cornerRadius": 4, "padding": 5, "rowPadding": 1, "labelFontSize": 16, "labelColor": "#333333", "labelFontWeight": "normal", "symbolType": "M-1,0L3,0", "symbolSize": 400, "symbolStrokeWidth": 3.5, "labelOffset": 26,
       "encode": {"symbols": {"update": {"strokeWidth": {"signal": "datum.value == 'Infected' ? 6 : 3.5"}}}}}},
   "strokeDash": {"field": "series", "type": "nominal", "scale": {"domain": ["Susceptible", "Infected", "Recovered"], "range": [[11, 7], [1, 0], [13, 5, 3, 5]]}, "legend": {"title": null}},
   "strokeWidth": {"field": "series", "type": "ordinal", "scale": {"domain": ["Susceptible", "Infected", "Recovered"], "range": [3.5, 5.5, 3.5]}, "legend": null}
  }},
 {"data": {"name": "iv"}, "mark": {"type": "rule", "color": "#111111", "strokeWidth": 1.3},
  "encoding": {"x": {"field": "start", "type": "temporal"}, "x2": {"field": "end"}, "y": {"datum": 0.855, "type": "quantitative"}}},
 {"data": {"name": "iv"}, "mark": {"type": "rule", "color": "#111111", "strokeWidth": 2},
  "encoding": {"x": {"field": "start", "type": "temporal"}, "y": {"datum": 0.81, "type": "quantitative"}, "y2": {"datum": 0.91}}},
 {"data": {"name": "iv"}, "mark": {"type": "rule", "color": "#111111", "strokeWidth": 2},
  "encoding": {"x": {"field": "end", "type": "temporal"}, "y": {"datum": 0.81, "type": "quantitative"}, "y2": {"datum": 0.91}}},
 {"data": {"name": "iv"}, "mark": {"type": "point", "shape": "M1.5,-0.6L0,0L1.5,0.6", "filled": false, "size": 144, "stroke": "#111111", "strokeWidth": 1.3, "opacity": 1},
  "encoding": {"x": {"field": "start", "type": "temporal"}, "y": {"datum": 0.855, "type": "quantitative"}}},
 {"data": {"name": "iv"}, "mark": {"type": "point", "shape": "M-1.5,-0.6L0,0L-1.5,0.6", "filled": false, "size": 144, "stroke": "#111111", "strokeWidth": 1.3, "opacity": 1},
  "encoding": {"x": {"field": "end", "type": "temporal"}, "y": {"datum": 0.855, "type": "quantitative"}}},
 {"data": {"values": [{}]}, "mark": {"type": "text", "fontSize": 22, "angle": 270, "align": "right", "baseline": "middle", "color": "#111111", "text": "High"},
  "encoding": {"x": {"datum": {"year": 2020, "month": 3, "date": 15}, "type": "temporal"}, "y": {"datum": 0.838, "type": "quantitative"}}},
 {"data": {"values": [{}]}, "mark": {"type": "text", "fontSize": 22, "angle": 270, "align": "right", "baseline": "middle", "color": "#111111", "text": "Medium"},
  "encoding": {"x": {"datum": {"year": 2020, "month": 4, "date": 12}, "type": "temporal"}, "y": {"datum": 0.843, "type": "quantitative"}}},
 {"data": {"values": [{}]}, "mark": {"type": "text", "fontSize": 22, "align": "center", "baseline": "alphabetic", "color": "#111111", "text": "Low Transmission"},
  "encoding": {"x": {"datum": {"year": 2020, "month": 7, "date": 17}, "type": "temporal"}, "y": {"datum": 0.873, "type": "quantitative"}}},
 {"data": {"values": [{}]}, "mark": {"type": "text", "fontSize": 22, "align": "center", "baseline": "alphabetic", "color": "#111111", "text": "High Transmission"},
  "encoding": {"x": {"datum": {"year": 2020, "month": 12, "date": 15}, "type": "temporal"}, "y": {"datum": 0.873, "type": "quantitative"}}},
 {"data": {"values": [{}]}, "mark": {"type": "text", "fontSize": 24, "align": "center", "baseline": "alphabetic", "color": "#FF1A1A", "text": "outbreak no.1"},
  "encoding": {"x": {"datum": {"year": 2020, "month": 7, "date": 5}, "type": "temporal"}, "y": {"datum": 0.1055, "type": "quantitative"}}},
 {"data": {"values": [{}]}, "mark": {"type": "text", "fontSize": 24, "align": "center", "baseline": "alphabetic", "color": "#FF1A1A", "text": "outbreak no.2"},
  "encoding": {"x": {"datum": {"year": 2020, "month": 11, "date": 11}, "type": "temporal"}, "y": {"datum": 0.202, "type": "quantitative"}}},
 {"data": {"values": [{}]}, "mark": {"type": "rect", "fill": "#FFFFFF", "stroke": "#111111", "strokeWidth": 1.5, "cornerRadius": 8},
  "encoding": {"x": {"datum": {"year": 2020, "month": 7, "date": 18}, "type": "temporal"}, "x2": {"datum": {"year": 2020, "month": 9, "date": 15}}, "y": {"datum": 0.4613, "type": "quantitative"}, "y2": {"datum": 0.5935}}},
 {"data": {"values": [{}]}, "mark": {"type": "text", "font": "Liberation Serif", "fontSize": 35, "color": "#000000", "text": "Paris"},
  "encoding": {"x": {"datum": {"year": 2020, "month": 8, "date": 16}, "type": "temporal"}, "y": {"datum": 0.527, "type": "quantitative"}}},
 {"data": {"values": [{}]}, "mark": {"type": "text", "fontSize": 20, "align": "left", "baseline": "middle", "color": "#222222", "text": "(c)"},
  "encoding": {"x": {"datum": {"year": 2019, "month": 12, "date": 23}, "type": "temporal"}, "y": {"datum": -0.17, "type": "quantitative"}}}
]
}
]
}
